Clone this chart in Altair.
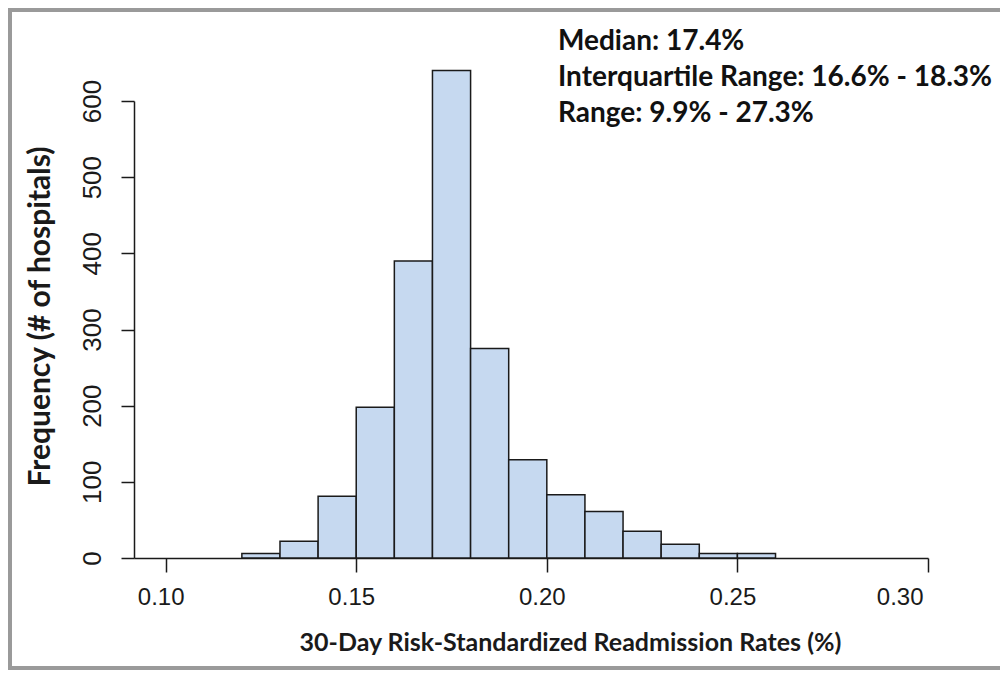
import altair as alt
import pandas as pd

# ---- data ----
bin_start = [0.12, 0.13, 0.14, 0.15, 0.16, 0.17, 0.18, 0.19, 0.20, 0.21, 0.22, 0.23, 0.24, 0.25]
bin_end = [0.13, 0.14, 0.15, 0.16, 0.17, 0.18, 0.19, 0.20, 0.21, 0.22, 0.23, 0.24, 0.25, 0.26]
counts = [6, 22, 81, 198, 390, 640, 275, 129, 83, 61, 35, 18, 6, 6]
x_ticks = [0.10, 0.15, 0.20, 0.25, 0.30]
y_ticks = [0, 100, 200, 300, 400, 500, 600]
stats_lines = [
    "Median: 17.4%",
    "Interquartile Range: 16.6% - 18.3%",
    "Range: 9.9% - 27.3%",
]
x_title = "30-Day Risk-Standardized Readmission Rates (%)"
y_title = "Frequency (# of hospitals)"

df = pd.DataFrame({"start": bin_start, "end": bin_end, "count": counts})

W, H = 794, 457

x_scale = alt.Scale(domain=[0.0917, 0.30], nice=False, zero=False)
y_scale = alt.Scale(domain=[0, 600], nice=False)

bars = alt.Chart(df).mark_rect(
    fill="#C6D9F0", stroke="#1a1a1a", strokeWidth=1.5
).encode(
    x=alt.X(
        "start:Q",
        scale=x_scale,
        axis=alt.Axis(
            values=x_ticks,
            format=".2f",
            title=x_title,
            grid=False,
            domainColor="#1a1a1a",
            domainWidth=1.5,
            tickColor="#1a1a1a",
            tickWidth=1.5,
            tickSize=14,
            labelFont="Liberation Sans",
            labelFontSize=24,
            labelColor="#1a1a1a",
            labelPadding=13,
            labelOffset=-5,
            titleFont="Lato",
            titleFontWeight="bold",
            titleFontSize=25,
            titleColor="#1a1a1a",
            titleAnchor="start",
            titleAlign="center",
            titleBaseline="alphabetic",
            titleX=436,
            titleY=92,
        ),
    ),
    x2="end:Q",
    y=alt.Y(
        "count:Q",
        scale=y_scale,
        axis=alt.Axis(
            values=y_ticks,
            title=y_title,
            grid=False,
            domainColor="#1a1a1a",
            domainWidth=1.5,
            tickColor="#1a1a1a",
            tickWidth=1.5,
            tickSize=13,
            labelFont="Liberation Sans",
            labelFontSize=26,
            labelColor="#1a1a1a",
            labelAngle=270,
            labelAlign="center",
            labelBaseline="middle",
            labelPadding=29,
            titleFont="Lato",
            titleFontWeight="bold",
            titleFontSize=30,
            titleColor="#1a1a1a",
            titleAngle=270,
            titleAlign="center",
            titleBaseline="middle",
            titleX=-94,
            titleY=215,
        ),
    ),
    y2=alt.datum(0),
)

stats = alt.Chart(pd.DataFrame({"txt": ["\n".join(stats_lines)]})).mark_text(
    align="left",
    baseline="alphabetic",
    font="Lato",
    fontWeight="bold",
    fontSize=28,
    lineBreak="\n",
    lineHeight=36,
    color="#111111",
).encode(
    text="txt:N",
    x=alt.value(424),
    y=alt.value(-51),
)

frame = alt.Chart(pd.DataFrame({"k": [0]})).mark_rect(
    fillOpacity=0, stroke="#9a9a9a", strokeWidth=4
).encode(
    x=alt.value(-124),
    x2=alt.value(868),
    y=alt.value(-91),
    y2=alt.value(567),
)

chart = alt.layer(bars, stats, frame).properties(
    width=W,
    height=H,
    padding={"left": 126, "top": 93, "right": 72, "bottom": 112},
    autosize="none",
).configure(background="white").configure_view(stroke=None)

chart.save("out.html", embed_options={"renderer": "svg", "actions": False})
